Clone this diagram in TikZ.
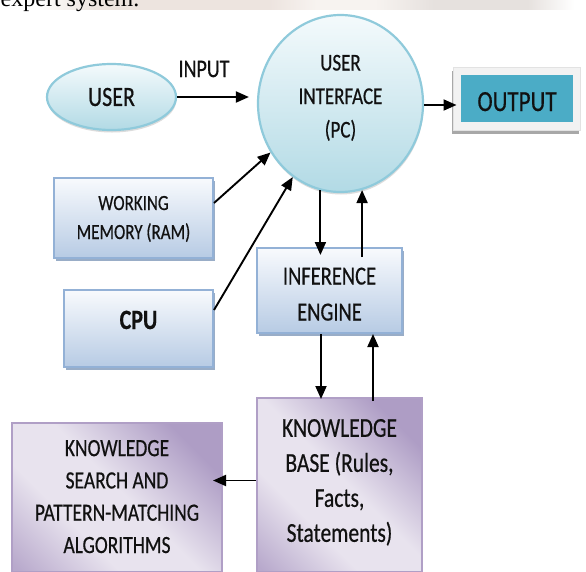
\documentclass[tikz,border=0pt]{standalone}
\usepackage{fontspec}
\usepackage{graphicx}
\setmainfont{Carlito}[FakeBold=0.6]
\newfontfamily\pageserif{Liberation Serif}
\usetikzlibrary{arrows.meta,shadows,shapes.geometric,calc}

% labels are set in a narrow, tall cut
\newcommand\tallrow[1]{\scalebox{1}[1.27]{#1}}

% palette
\definecolor{ellline}{HTML}{8FCADB}
\definecolor{elltop}{HTML}{F4FAFC}
\definecolor{ellbot}{HTML}{B2DAE5}
\definecolor{boxline}{HTML}{93B1D6}
\definecolor{boxtop}{HTML}{F8FAFD}
\definecolor{boxbot}{HTML}{B7CBE4}
\definecolor{boxshadow}{HTML}{8FA5C2}
\definecolor{purline}{HTML}{B09FC6}
\definecolor{purdark}{HTML}{AE9DC5}
\definecolor{purlight}{HTML}{E8E3EE}
\definecolor{purmid}{HTML}{B8A9CC}
\definecolor{outteal}{HTML}{4BACC6}
\definecolor{framefill}{HTML}{F2F2F2}
\definecolor{frameline}{HTML}{E2E2E2}
\definecolor{frameshadow}{HTML}{A8A8A8}
\definecolor{stripA}{HTML}{EDE4DF}
\definecolor{stripB}{HTML}{F7F3F0}
\definecolor{stripC}{HTML}{E6E1DE}
\definecolor{ink}{HTML}{111111}

% diagonal band for the knowledge boxes
\pgfdeclarehorizontalshading{purpleband}{100bp}{color(0bp)=(purdark); color(25bp)=(purdark); color(48bp)=(purlight); color(64bp)=(purlight); color(84bp)=(purmid); color(100bp)=(purmid)}
% page strip above the figure
\pgfdeclarehorizontalshading{pagestrip}{100bp}{color(0bp)=(white); color(28bp)=(white); color(33bp)=(stripA); color(48bp)=(stripA); color(52bp)=(stripB); color(57bp)=(stripB); color(62bp)=(stripC); color(70bp)=(stripC); color(74bp)=(white); color(80bp)=(white); color(85bp)=(stripC); color(92bp)=(stripB); color(100bp)=(white)}

\tikzset{
  ell/.style={ellipse, draw=ellline, line width=2.2pt, top color=elltop, bottom color=ellbot,
    drop shadow={shadow xshift=0.5pt, shadow yshift=-2.5pt, fill=black!30, opacity=0.45},
    inner sep=0pt, align=center, text=ink},
  bluebox/.style={rectangle, draw=boxline, line width=2pt, top color=boxtop, bottom color=boxbot,
    drop shadow={shadow xshift=2pt, shadow yshift=-3pt, fill=boxshadow, opacity=0.9},
    inner sep=0pt, align=center, text=ink},
  purbox/.style={rectangle, draw=purline, line width=2pt, shading=purpleband, shading angle=225,
    inner sep=0pt, align=center, text=ink},
  arr/.style={-{Triangle[length=13pt,width=11pt]}, line width=1.9pt, black},
}

\begin{document}
\begin{tikzpicture}[x=1pt, y=-1pt]
\useasboundingbox (0,0) rectangle (586,571);
\clip (0,0) rectangle (586,571);
\fill[white] (0,0) rectangle (586,571);

% top strip of the page
\shade[shading=pagestrip] (0,0) rectangle (586,9.5);
\node[anchor=base west, inner sep=0pt, font=\pageserif\fontsize{24}{24}\selectfont] (pagetext) at (0.5,6.5) {expert system.};

% user side
\node[ell, minimum width=129pt, minimum height=66pt, font=\fontsize{22}{22}\selectfont] (user) at (111.5,97) {\tallrow{USER}};
\node[inner sep=0pt, text=ink, font=\fontsize{20}{20}\selectfont] (inlbl) at (204,69) {\tallrow{INPUT}};

\node[ell, minimum width=165pt, minimum height=177pt, font=\fontsize{19}{33.5}\selectfont,
  text height=68pt, text depth=0pt] (ui) at (340.5,103.5)
  {\tallrow{USER}\\\tallrow{INTERFACE}\\\tallrow{(PC)}};

% output
\node[rectangle, draw=frameline, line width=1pt, fill=framefill, minimum width=127pt, minimum height=63pt,
  drop shadow={shadow xshift=-1pt, shadow yshift=-4pt, fill=frameshadow, opacity=1}] (outf) at (516.5,98.5) {};
\node[rectangle, fill=outteal, minimum width=112pt, minimum height=47pt, inner sep=0pt, text=ink,
  font=\fontsize{23}{23}\selectfont, text height=25pt, text depth=0pt] (out) at (517,98.5) {\tallrow{OUTPUT}};

% hardware
\node[bluebox, minimum width=159pt, minimum height=80pt, font=\fontsize{17}{29}\selectfont,
  text height=42pt, text depth=0pt] (wm) at (133.5,218) {\tallrow{WORKING}\\\tallrow{MEMORY (RAM)}};
\node[bluebox, minimum width=149pt, minimum height=77pt, font=\bfseries\fontsize{22}{22}\selectfont,
  text height=1pt, text depth=0pt] (cpu) at (138.5,328.5) {\tallrow{CPU}};

% reasoning
\node[bluebox, minimum width=145pt, minimum height=85pt, font=\fontsize{20.5}{36}\selectfont,
  text height=60pt, text depth=0pt] (ie) at (329.5,290.5) {\tallrow{INFERENCE}\\\tallrow{ENGINE}};
\node[purbox, minimum width=165pt, minimum height=174pt, font=\fontsize{21.5}{35}\selectfont,
  text height=113.6pt, text depth=0pt] (kb) at (339.5,485)
  {\tallrow{KNOWLEDGE}\\\tallrow{BASE (Rules,}\\\tallrow{Facts,}\\\tallrow{Statements)}};
\node[purbox, minimum width=210pt, minimum height=149pt, font=\fontsize{19.5}{32.3}\selectfont,
  text height=111pt, text depth=0pt] (ksp) at (117,497.5)
  {\tallrow{KNOWLEDGE}\\\tallrow{SEARCH AND}\\\tallrow{PATTERN-MATCHING}\\\tallrow{ALGORITHMS}};

% connectors
\draw[arr, shorten >=8pt] (user.east) -- (user.east -| ui.west);

\coordinate (outin) at ([yshift=-6.5pt]outf.west);
\draw[arr, shorten >=-4pt] (outin -| ui.east) -- (outin);

\draw[arr] ([yshift=15pt]wm.east) -- (ui.215);
\draw[arr] ([yshift=18.5pt]cpu.east) -- (ui.237);

\draw[arr, shorten >=-8pt] (ui.257) -- (ui.257 |- ie.north);
\draw[arr, shorten <=-10pt] (ui.284 |- ie.north) -- (ui.284);

\coordinate (kbdown) at ([xshift=-8.5pt]ie.south);
\draw[arr, shorten >=-2pt] (kbdown) -- (kbdown |- kb.north);
\coordinate (kbup) at ([xshift=43.5pt]ie.south);
\draw[arr, shorten <=-4pt] (kbup |- kb.north) -- (kbup);

\coordinate (kbout) at ([yshift=4.5pt]kb.west);
\draw[arr, shorten >=-10pt] (kbout) -- (kbout -| ksp.east);
\end{tikzpicture}
\end{document}
